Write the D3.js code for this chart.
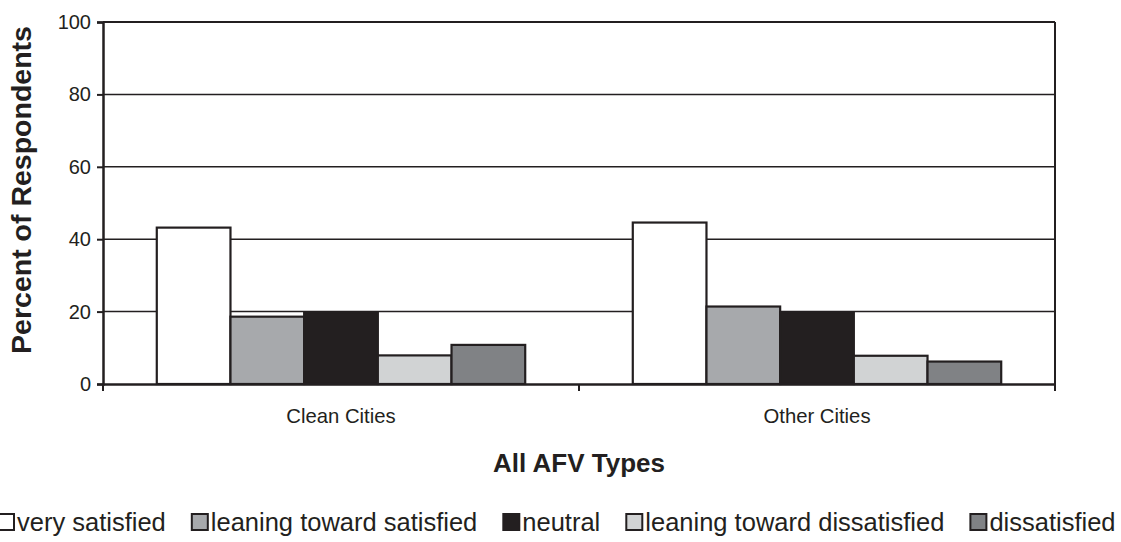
<!DOCTYPE html>
<html>
<head>
<meta charset="utf-8">
<script src="https://cdn.jsdelivr.net/npm/d3@7"></script>
<style>
  html, body { margin: 0; padding: 0; background: #fff; }
  svg { display: block; font-family: "Liberation Sans", Arial, Helvetica, sans-serif; }
</style>
</head>
<body>
<svg id="chart" width="1121" height="542"></svg>
<script>
const categories = ["Clean Cities", "Other Cities"];
const seriesNames = ["very satisfied", "leaning toward satisfied", "neutral", "leaning toward dissatisfied", "dissatisfied"];
const cleanCities = [43.2, 18.6, 19.7, 7.9, 10.8];
const otherCities = [44.6, 21.4, 19.8, 7.8, 6.2];
const yTicks = [0, 20, 40, 60, 80, 100];
const seriesColors = ["#ffffff", "#a7a9ac", "#231f20", "#d1d3d4", "#808285"];
const xTitle = "All AFV Types";
const yTitle = "Percent of Respondents";

(function () {
const valuesByCategory = [cleanCities, otherCities];
const ink = "#231f20";

const svg = d3.select("#chart");
const pL = 103, pR = 1055, pT = 22, pB = 384;

const x0 = d3.scaleBand().domain(categories).range([pL, pR]).paddingInner(0).paddingOuter(0);
const x1 = d3.scaleBand().domain(seriesNames).range([0, x0.bandwidth()]).paddingInner(0).paddingOuter(0.73);
const y = d3.scaleLinear().domain([0, 100]).range([pB, pT]);
const color = d3.scaleOrdinal().domain(seriesNames).range(seriesColors);

// gridlines
svg.append("g")
  .selectAll("line")
  .data(yTicks.filter(t => t > 0 && t < 100))
  .join("line")
  .attr("x1", pL).attr("x2", pR)
  .attr("y1", d => y(d)).attr("y2", d => y(d))
  .attr("stroke", ink).attr("stroke-width", 1.5);

// bars
const groups = svg.append("g")
  .selectAll("g")
  .data(categories.map((c, i) => ({ c, vals: valuesByCategory[i] })))
  .join("g")
  .attr("transform", d => `translate(${x0(d.c)},0)`);

groups.selectAll("rect")
  .data(d => d.vals.map((v, j) => ({ s: seriesNames[j], v })))
  .join("rect")
  .attr("x", d => x1(d.s))
  .attr("width", x1.bandwidth())
  .attr("y", d => y(d.v))
  .attr("height", d => y(0) - y(d.v))
  .attr("fill", d => color(d.s))
  .attr("stroke", ink)
  .attr("stroke-width", 2.2);

// frame top and right
svg.append("line").attr("x1", pL).attr("x2", pR).attr("y1", pT).attr("y2", pT)
  .attr("stroke", ink).attr("stroke-width", 2);
svg.append("line").attr("x1", pR).attr("x2", pR).attr("y1", pT).attr("y2", pB)
  .attr("stroke", ink).attr("stroke-width", 2);

// y axis
const yAxis = d3.axisLeft(y).tickValues(yTicks).tickSize(6).tickPadding(6).tickFormat(d3.format("d"));
const yg = svg.append("g").attr("transform", `translate(${pL},0)`).call(yAxis);
yg.select(".domain").attr("stroke", ink).attr("stroke-width", 2.5);
yg.selectAll(".tick line").attr("stroke", ink).attr("stroke-width", 2);
yg.selectAll(".tick text").attr("fill", ink).style("font-size", "20px")
  .style("font-family", "'Liberation Sans', Arial, sans-serif");

// x axis
const xAxis = d3.axisBottom(x0).tickSize(0).tickPadding(25);
const xg = svg.append("g").attr("transform", `translate(0,${pB})`).call(xAxis);
xg.select(".domain").attr("stroke", ink).attr("stroke-width", 2.5);
xg.selectAll(".tick text").attr("fill", ink).style("font-size", "20.3px")
  .style("font-family", "'Liberation Sans', Arial, sans-serif");
const boundaries = [pL].concat(categories.map(c => x0(c) + x0.bandwidth()));
xg.selectAll(".bound")
  .data(boundaries)
  .join("line")
  .attr("class", "bound")
  .attr("x1", d => d).attr("x2", d => d)
  .attr("y1", 0).attr("y2", 7)
  .attr("stroke", ink).attr("stroke-width", 2);

// titles
svg.append("text")
  .attr("x", (pL + pR) / 2).attr("y", 472)
  .attr("text-anchor", "middle")
  .attr("fill", ink)
  .style("font-size", "26px").style("font-weight", "bold")
  .text(xTitle);

svg.append("text")
  .attr("transform", `translate(31,190) rotate(-90)`)
  .attr("text-anchor", "middle")
  .attr("fill", ink)
  .style("font-size", "28.5px").style("font-weight", "bold")
  .text(yTitle);

// legend
const legend = svg.append("g");
const boxSize = 16, boxGap = 3, itemGap = 26;
let cx = 0;
seriesNames.forEach((s) => {
  const g = legend.append("g");
  g.append("rect")
    .attr("x", 0).attr("y", -boxSize - 1)
    .attr("width", boxSize).attr("height", boxSize)
    .attr("fill", color(s)).attr("stroke", ink).attr("stroke-width", 2);
  const t = g.append("text")
    .attr("x", boxSize + boxGap).attr("y", 0)
    .attr("fill", ink)
    .style("font-size", "25.5px")
    .text(s);
  const w = boxSize + boxGap + t.node().getComputedTextLength();
  g.attr("transform", `translate(${cx},0)`);
  cx += w + itemGap;
});
legend.attr("transform", `translate(-2,531)`);
})();
</script>
</body>
</html>
